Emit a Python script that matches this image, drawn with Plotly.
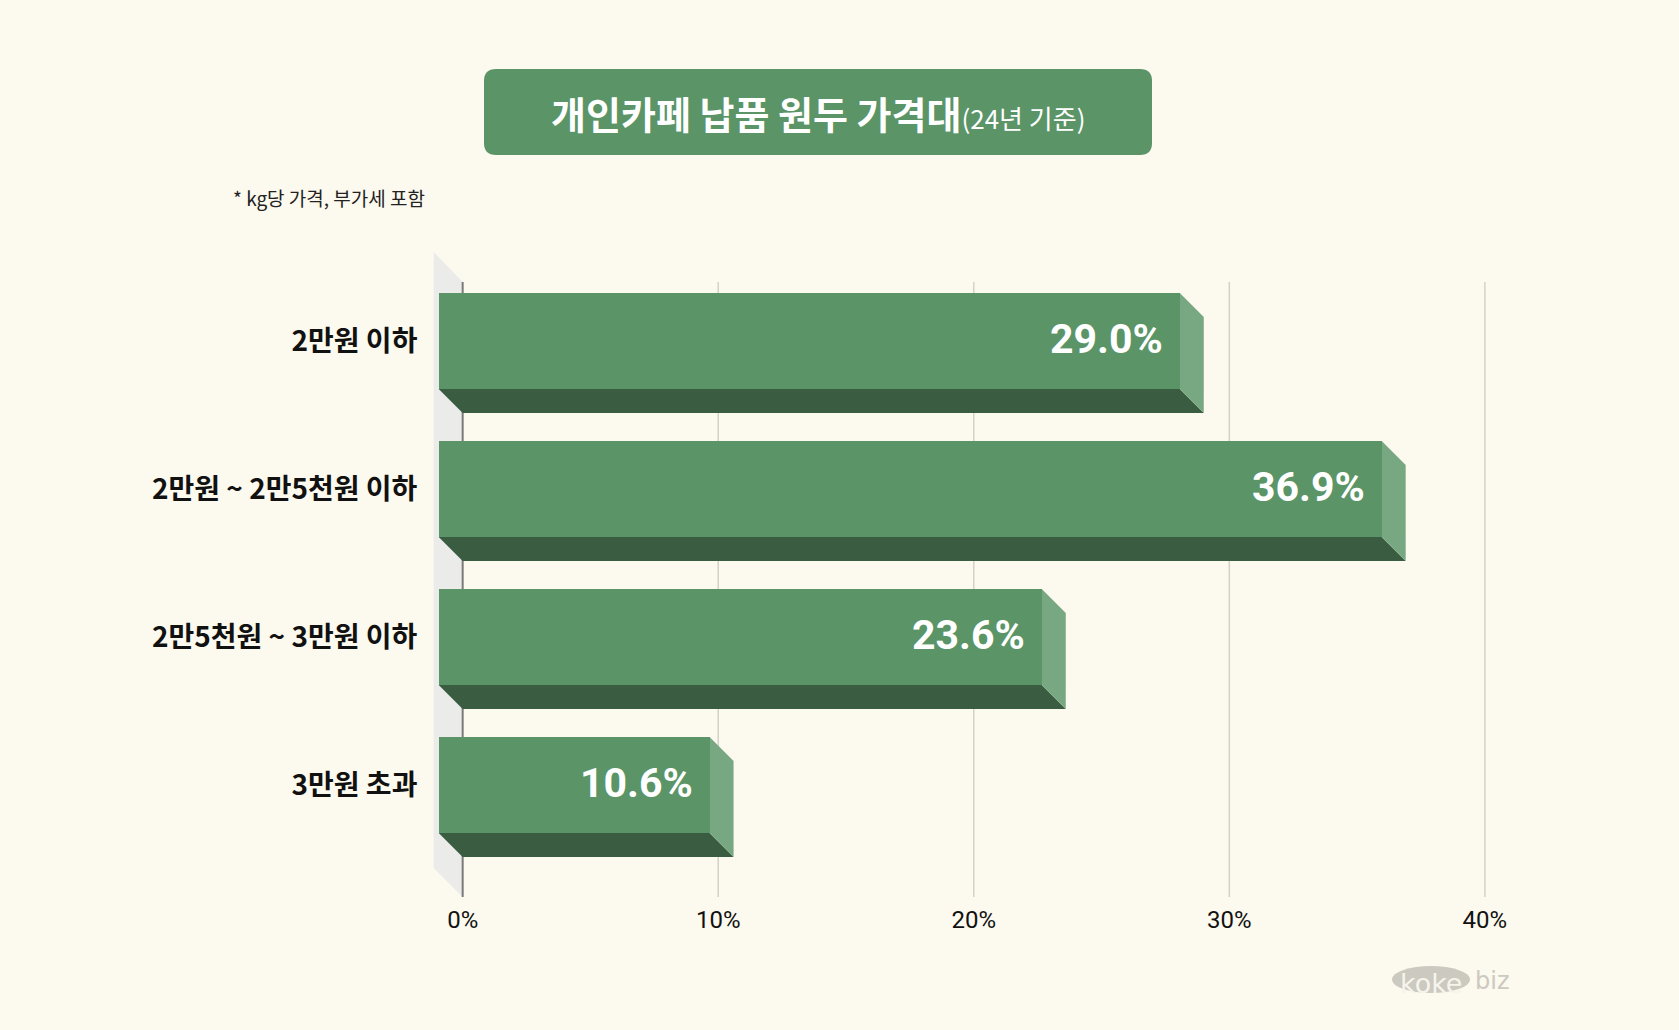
import plotly.graph_objects as go

# 데이터
categorias = ['2만원 이하', '2만원 ~ 2만5천원 이하', '2만5천원 ~ 3만원 이하', '3만원 초과']
percentuais = [29.0, 36.9, 23.6, 10.6]
ticks_x = [0, 10, 20, 30, 40]
rotulos_x = ['0%', '10%', '20%', '30%', '40%']

titulo = '개인카페 납품 원두 가격대'
subtitulo = '(24년 기준)'
nota = '* kg당 가격, 부가세 포함'

# cores
fundo = '#fcf9ee'
verde = '#5a9467'
verde_escuro = '#3a5c40'
verde_claro = '#78a882'
parede = '#ebebea'

# geometria da figura (pixels)
W, H = 1679, 1030
ML, MR, MT, MB = 432, 143, 252, 133
X_RANGE = [-1.2, 42]
Y_RANGE = [3.757, -0.601]
px_x = (W - ML - MR) / (X_RANGE[1] - X_RANGE[0])
px_y = (H - MT - MB) / (Y_RANGE[0] - Y_RANGE[1])

largura_barra = 96 / px_y
dx = 24 / px_x   # profundidade 3D
dy = 24 / px_y
topo_grade = Y_RANGE[1] + 30 / px_y
base_grade = Y_RANGE[0]
wx = 29 / px_x
wy = 29 / px_y

ys = list(range(len(categorias)))

fig = go.Figure()

# face frontal das barras
fig.add_trace(go.Bar(
    y=ys,
    x=percentuais,
    base=[-dx] * len(percentuais),
    orientation='h',
    width=largura_barra,
    marker=dict(color=verde, line=dict(width=0)),
    hoverinfo='skip',
    showlegend=False,
))

shapes = []

# parede lateral cinza
shapes.append(dict(
    type='path', xref='x', yref='y', layer='below',
    path=f'M {-wx},{Y_RANGE[1]} L 0,{topo_grade} L 0,{base_grade} L {-wx},{base_grade - wy} Z',
    fillcolor=parede, line=dict(width=0),
))

# linhas de grade
for t in ticks_x[1:]:
    shapes.append(dict(
        type='line', xref='x', yref='y', layer='below',
        x0=t, x1=t, y0=topo_grade, y1=base_grade,
        line=dict(color='#d3d1c9', width=1.5),
    ))

# eixo 0%
shapes.append(dict(
    type='line', xref='x', yref='y', layer='below',
    x0=0, x1=0, y0=topo_grade, y1=base_grade,
    line=dict(color='#7a7a7a', width=2),
))

# faces inferior e lateral das barras
for y, v in zip(ys, percentuais):
    topo = y - largura_barra / 2
    base = y + largura_barra / 2
    shapes.append(dict(
        type='path', xref='x', yref='y', layer='below',
        path=f'M {-dx},{base} L {v - dx},{base} L {v},{base + dy} L 0,{base + dy} Z',
        fillcolor=verde_escuro, line=dict(width=0),
    ))
    shapes.append(dict(
        type='path', xref='x', yref='y', layer='below',
        path=f'M {v - dx},{topo} L {v},{topo + dy} L {v},{base + dy} L {v - dx},{base} Z',
        fillcolor=verde_claro, line=dict(width=0),
    ))

# caixa do título (cantos arredondados)
shapes.append(dict(
    type='path', xref='paper', yref='paper',
    xsizemode='pixel', ysizemode='pixel', xanchor=0, yanchor=1,
    path='M 64,183 L 708,183 Q 720,183 720,171 L 720,109 Q 720,97 708,97 '
         'L 64,97 Q 52,97 52,109 L 52,171 Q 52,183 64,183 Z',
    fillcolor=verde, line=dict(width=0),
))

# logo koke biz
shapes.append(dict(
    type='circle', xref='paper', yref='paper',
    xsizemode='pixel', ysizemode='pixel', xanchor=1, yanchor=0,
    x0=-144, x1=-66, y0=-69, y1=-96,
    fillcolor='#cbc9c0', line=dict(width=0),
))

annotations = []

# rótulos de valor
for y, v in zip(ys, percentuais):
    annotations.append(dict(
        x=v - dx, y=y, xref='x', yref='y',
        text=f'<b>{v:.1f}%</b>', showarrow=False,
        xanchor='right', yanchor='middle', xshift=-15, yshift=2,
        font=dict(family='Roboto', size=41, color='white'),
    ))

annotations.append(dict(
    x=(818 - ML) / (W - ML - MR), y=(H - MB - 112) / (H - MT - MB),
    xref='paper', yref='paper', showarrow=False,
    xanchor='center', yanchor='middle',
    text=f'<b>{titulo}</b><span style="font-size:26px">{subtitulo}</span>',
    font=dict(family='Noto Sans CJK KR', size=38, color='white'),
))

annotations.append(dict(
    x=(231 - ML) / (W - ML - MR), y=(H - MB - 197) / (H - MT - MB),
    xref='paper', yref='paper', showarrow=False,
    xanchor='left', yanchor='middle', text=nota,
    font=dict(family='Noto Sans CJK KR', size=19, color='#222222'),
))

annotations.append(dict(
    x=(1431 - ML) / (W - ML - MR), y=(H - MB - 983) / (H - MT - MB),
    xref='paper', yref='paper', showarrow=False,
    xanchor='center', yanchor='middle', text='koke',
    font=dict(family='DejaVu Sans', size=27, color='#f6f4eb'),
))
annotations.append(dict(
    x=(1492 - ML) / (W - ML - MR), y=(H - MB - 981) / (H - MT - MB),
    xref='paper', yref='paper', showarrow=False,
    xanchor='center', yanchor='middle', text='biz',
    font=dict(family='DejaVu Sans', size=24, color='#cbc9c0'),
))

fig.update_layout(
    width=W, height=H,
    margin=dict(l=ML, r=MR, t=MT, b=MB, pad=0),
    paper_bgcolor=fundo,
    plot_bgcolor=fundo,
    bargap=0,
    shapes=shapes,
    annotations=annotations,
    xaxis=dict(
        range=X_RANGE, tickvals=ticks_x, ticktext=rotulos_x,
        showgrid=False, zeroline=False, showline=False,
        ticks='outside', ticklen=1, tickcolor='rgba(0,0,0,0)',
        tickfont=dict(family='Roboto', size=24, color='#111111'),
        fixedrange=True,
    ),
    yaxis=dict(
        range=Y_RANGE, tickvals=ys,
        ticktext=[f'<b>{c}</b>' for c in categorias],
        showgrid=False, zeroline=False, showline=False,
        ticks='outside', ticklen=8, tickcolor='rgba(0,0,0,0)',
        tickfont=dict(family='Noto Sans CJK KR', size=28, color='#111111'),
        fixedrange=True,
    ),
)

# tira a margem padrão do <body> para a figura ocupar a janela inteira
fig.write_html('out.html', config={'displayModeBar': False},
               post_script="document.body.style.margin='0';document.body.style.background='#fcf9ee';")
